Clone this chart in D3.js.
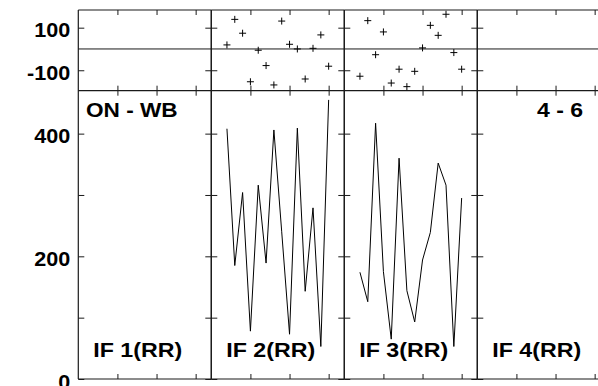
<!DOCTYPE html>
<html><head><meta charset="utf-8">
<script src="https://cdn.jsdelivr.net/npm/d3@7"></script>
<style>
body{margin:0;background:#fff;}
svg{display:block;}
text{font-family:"Liberation Sans",Arial,sans-serif;font-weight:bold;font-size:20px;fill:#000;}
</style></head>
<body><svg id="c" width="598" height="386"></svg>
<script>
// ---- data ----
const panels = ["IF 1(RR)", "IF 2(RR)", "IF 3(RR)", "IF 4(RR)"];
const xs = [2,3,4,5,6,7,8,9,10,11,12,13,14,15];
const if2Values = [408,185,304,78,316,189,406,240,73,409,143,279,53,455];
const if3Values = [174,126,417,175,65,360,144,93,194,239,352,316,53,295];
const if2Resid = [19,139,74,-154,-6,-78,-169,131,22,0,-141,3,66,-81];
const if3Resid = [-128,133,-27,80,-160,-95,-177,-105,5,111,64,163,-17,-95];
const seriesValues = [null, if2Values, if3Values, null];
const seriesResid = [null, if2Resid, if3Resid, null];
const xTicks = [5,10,15];
const mainTicks = [0,100,200,300,400];
const mainLabels = [0,200,400];
const residTicks = [-100,100];
const titleLeft = "ON - WB";
const titleRight = "4 - 6";

// ---- layout ----
const svg = d3.select("#c");
const left0 = 78.3, pw = 133;
const topY = 10, midY = 90.7, botY = 379;
const yMain = d3.scaleLinear().domain([0,470]).range([botY, midY]);
const yRes = d3.scaleLinear().domain([-196,183]).range([midY, topY]);
const frameCol = "#1a1a1a";

function stretch(sel, f){
  sel.each(function(){
    const w = this.getComputedTextLength();
    d3.select(this).attr("textLength", w*f).attr("lengthAdjust","spacingAndGlyphs");
  });
}

panels.forEach((name, i) => {
  const x0 = left0 + i*pw;
  const x = d3.scaleLinear().domain([0,17]).range([x0, x0+pw]);
  const g = svg.append("g");

  // x ticks (inward) on top and bottom of both sub panels
  const addX = (axis, y) => {
    const a = g.append("g").attr("transform",`translate(0,${y})`)
      .call(axis(x).tickValues(xTicks).tickSize(-5).tickFormat(""));
    a.select(".domain").remove();
    a.selectAll("line").attr("stroke",frameCol).attr("stroke-width",1);
  };
  addX(d3.axisTop, topY);
  addX(d3.axisBottom, midY);
  addX(d3.axisTop, midY);
  addX(d3.axisBottom, botY);

  // y ticks inward on both sides
  const addY = (axis, scale, vals, xp, labels) => {
    const a = g.append("g").attr("transform",`translate(${xp},0)`)
      .call(axis(scale).tickValues(vals).tickSize(-6).tickPadding(8)
        .tickFormat(labels ? (d => labels.includes(d) ? d : "") : ""));
    a.select(".domain").remove();
    a.selectAll("line").attr("stroke",frameCol).attr("stroke-width",1);
    a.selectAll("text").attr("font-size",null).attr("font-family",null).attr("dy","0.45em");
    return a;
  };
  const lab = i === 0;
  const ar = addY(d3.axisLeft, yRes, residTicks, x0, lab ? residTicks : null);
  const am = addY(d3.axisLeft, yMain, mainTicks, x0, lab ? mainLabels : null);
  addY(d3.axisRight, yRes, residTicks, x0+pw, null);
  addY(d3.axisRight, yMain, mainTicks, x0+pw, null);
  if (lab){ stretch(ar.selectAll("text"), 1.08); stretch(am.selectAll("text"), 1.08); }

  // frame
  g.append("line").attr("x1",x0).attr("x2",x0).attr("y1",topY).attr("y2",botY)
    .attr("stroke",frameCol).attr("stroke-width",1.2);
  g.append("line").attr("x1",x0+pw).attr("x2",x0+pw).attr("y1",topY).attr("y2",botY)
    .attr("stroke",frameCol).attr("stroke-width",1.2);
  [topY, midY, botY].forEach(y => g.append("line").attr("x1",x0).attr("x2",x0+pw)
    .attr("y1",y).attr("y2",y).attr("stroke",frameCol).attr("stroke-width",1.2));
  g.append("line").attr("x1",x0).attr("x2",x0+pw).attr("y1",yRes(0)).attr("y2",yRes(0))
    .attr("stroke",frameCol).attr("stroke-width",1);

  // data
  const vals = seriesValues[i];
  if (vals){
    const line = d3.line().x((d,k)=>x(xs[k])).y(d=>yMain(d));
    g.append("path").datum(vals).attr("d",line).attr("fill","none")
      .attr("stroke","#000").attr("stroke-width",1);
  }
  const res = seriesResid[i];
  if (res){
    g.append("g").selectAll("path").data(res).join("path")
      .attr("d",(d,k)=>{const px=x(xs[k]), py=yRes(d);
        return `M${px-3.5},${py}H${px+3.5}M${px},${py-3.5}V${py+3.5}`;})
      .attr("stroke","#000").attr("stroke-width",1);
  }

  // panel label
  const t = g.append("text").attr("x", x0+15).attr("y", 356.7).text(name);
  stretch(t, 1.16);
});

const tl = svg.append("text").attr("x", 86).attr("y", 117.3).text(titleLeft);
stretch(tl, 1.13);
const tr = svg.append("text").attr("x", 583).attr("y", 117.3).attr("text-anchor","end").text(titleRight);
stretch(tr, 1.15);
</script></body></html>
